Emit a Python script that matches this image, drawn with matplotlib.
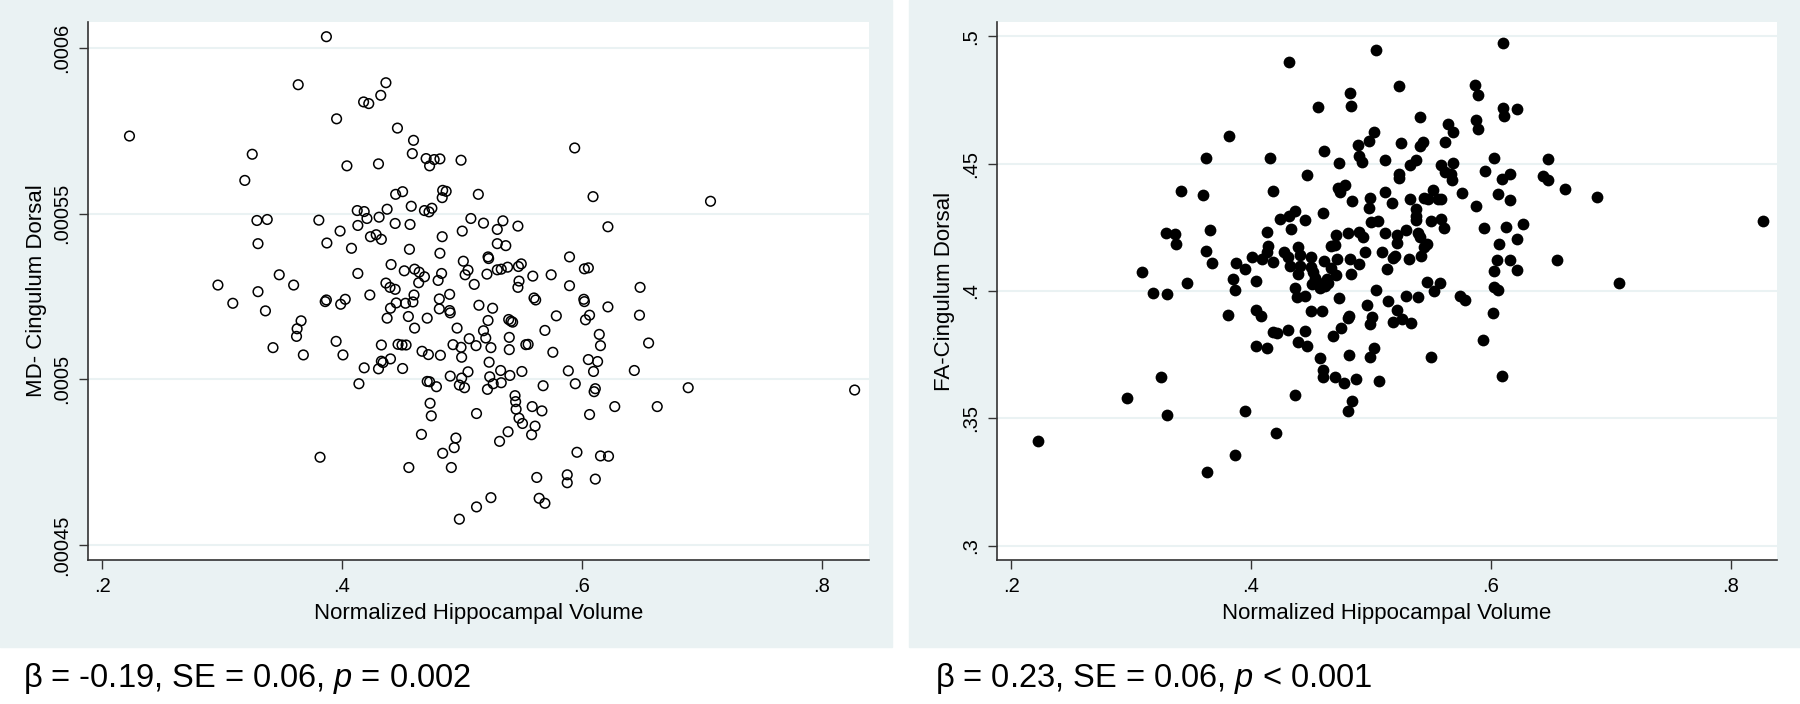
import matplotlib

matplotlib.use("Agg")
import matplotlib.pyplot as plt
from matplotlib.patches import Rectangle

plt.rcParams["font.family"] = ["Liberation Sans", "DejaVu Sans"]
plt.rcParams["mathtext.fontset"] = "custom"
plt.rcParams["mathtext.rm"] = "Liberation Sans"
plt.rcParams["mathtext.it"] = "Liberation Sans:italic"

# ---- data ----
md_x = [
    0.3870, 0.3635, 0.4366, 0.4323, 0.4180, 0.4223, 0.3955, 0.2229, 0.4462, 0.4596,
    0.5939, 0.3252, 0.4586, 0.4701, 0.4768, 0.4816, 0.4730, 0.4992, 0.4041, 0.4304,
    0.3190, 0.4447, 0.4505, 0.4839, 0.4868, 0.4835, 0.5136, 0.6092, 0.7071, 0.4577,
    0.4127, 0.4185, 0.4376, 0.4687, 0.4725, 0.4749, 0.4208, 0.4309, 0.3291, 0.3377,
    0.3807, 0.4132, 0.4443, 0.4567, 0.5074, 0.5179, 0.5341, 0.5294, 0.5466, 0.5002,
    0.6216, 0.3984, 0.4237, 0.4285, 0.4328, 0.4835, 0.3300, 0.3874, 0.4079, 0.4562,
    0.5294, 0.5365, 0.4816, 0.5217, 0.5222, 0.5896, 0.5011, 0.4409, 0.5494, 0.5470,
    0.6020, 0.6053, 0.4605, 0.4519, 0.4643, 0.4830, 0.5050, 0.5026, 0.5208, 0.5294,
    0.5327, 0.5380, 0.3477, 0.4132, 0.4687, 0.4801, 0.5743, 0.5590, 0.5475, 0.4366,
    0.4400, 0.4639, 0.2966, 0.3597, 0.5102, 0.5896, 0.5466, 0.6484, 0.3300, 0.4232,
    0.4443, 0.4600, 0.4897, 0.5600, 0.5614, 0.6015, 0.6020, 0.3090, 0.3860, 0.3870,
    0.4027, 0.3989, 0.4591, 0.4529, 0.4452, 0.4811, 0.4811, 0.4897, 0.4902, 0.5141,
    0.5255, 0.6216, 0.3362, 0.4404, 0.6479, 0.4376, 0.4553, 0.4710, 0.5217, 0.5389,
    0.5408, 0.5422, 0.5786, 0.6029, 0.6063, 0.3659, 0.3626, 0.3621, 0.4605, 0.4959,
    0.5179, 0.5691, 0.6144, 0.5394, 0.5060, 0.5198, 0.3425, 0.3951, 0.4328, 0.4467,
    0.4500, 0.4534, 0.4925, 0.4992, 0.5117, 0.5241, 0.5394, 0.5532, 0.5551, 0.6154,
    0.6555, 0.3678, 0.4008, 0.4667, 0.4720, 0.4820, 0.4997, 0.5757, 0.4404, 0.4328,
    0.4342, 0.5226, 0.6053, 0.6130, 0.4185, 0.4304, 0.4505, 0.5050, 0.5322, 0.5499,
    0.5886, 0.6096, 0.6436, 0.4902, 0.4997, 0.5231, 0.5399, 0.4141, 0.4710, 0.4730,
    0.4787, 0.4978, 0.5021, 0.5260, 0.5327, 0.5676, 0.5944, 0.5212, 0.6885, 0.8272,
    0.6111, 0.6101, 0.5442, 0.5447, 0.5451, 0.5585, 0.5666, 0.6273, 0.6627, 0.4734,
    0.4744, 0.5121, 0.5475, 0.5504, 0.5609, 0.6063, 0.4662, 0.4949, 0.5384, 0.5580,
    0.5313, 0.4935, 0.4839, 0.3817, 0.5958, 0.6154, 0.6221, 0.4557, 0.4911, 0.5623,
    0.5877, 0.5877, 0.6111, 0.5241, 0.5643, 0.5691, 0.5121, 0.4978,
]
md_y = [
    0.0006035, 0.0005890, 0.0005896, 0.0005858, 0.0005838, 0.0005833, 0.0005787, 0.0005735, 0.0005759, 0.0005722,
    0.0005699, 0.0005680, 0.0005682, 0.0005667, 0.0005664, 0.0005666, 0.0005645, 0.0005662, 0.0005645, 0.0005651,
    0.0005601, 0.0005559, 0.0005567, 0.0005571, 0.0005568, 0.0005549, 0.0005559, 0.0005552, 0.0005538, 0.0005523,
    0.0005510, 0.0005507, 0.0005514, 0.0005510, 0.0005506, 0.0005517, 0.0005486, 0.0005490, 0.0005480, 0.0005483,
    0.0005481, 0.0005465, 0.0005471, 0.0005468, 0.0005486, 0.0005472, 0.0005479, 0.0005453, 0.0005463, 0.0005448,
    0.0005461, 0.0005448, 0.0005431, 0.0005437, 0.0005423, 0.0005431, 0.0005410, 0.0005412, 0.0005396, 0.0005393,
    0.0005410, 0.0005404, 0.0005381, 0.0005370, 0.0005365, 0.0005370, 0.0005357, 0.0005347, 0.0005349, 0.0005341,
    0.0005334, 0.0005337, 0.0005333, 0.0005328, 0.0005324, 0.0005320, 0.0005330, 0.0005316, 0.0005318, 0.0005331,
    0.0005333, 0.0005339, 0.0005316, 0.0005320, 0.0005310, 0.0005299, 0.0005316, 0.0005312, 0.0005297, 0.0005291,
    0.0005278, 0.0005292, 0.0005285, 0.0005285, 0.0005287, 0.0005283, 0.0005278, 0.0005278, 0.0005265, 0.0005255,
    0.0005272, 0.0005255, 0.0005257, 0.0005246, 0.0005240, 0.0005242, 0.0005235, 0.0005230, 0.0005235, 0.0005240,
    0.0005242, 0.0005227, 0.0005234, 0.0005230, 0.0005231, 0.0005243, 0.0005213, 0.0005208, 0.0005201, 0.0005224,
    0.0005215, 0.0005219, 0.0005207, 0.0005215, 0.0005194, 0.0005185, 0.0005190, 0.0005185, 0.0005178, 0.0005181,
    0.0005176, 0.0005173, 0.0005192, 0.0005180, 0.0005194, 0.0005177, 0.0005153, 0.0005130, 0.0005155, 0.0005155,
    0.0005147, 0.0005148, 0.0005136, 0.0005127, 0.0005123, 0.0005125, 0.0005096, 0.0005115, 0.0005104, 0.0005106,
    0.0005104, 0.0005104, 0.0005105, 0.0005097, 0.0005102, 0.0005096, 0.0005090, 0.0005105, 0.0005106, 0.0005102,
    0.0005110, 0.0005074, 0.0005074, 0.0005085, 0.0005075, 0.0005073, 0.0005067, 0.0005082, 0.0005062, 0.0005055,
    0.0005051, 0.0005052, 0.0005060, 0.0005054, 0.0005035, 0.0005032, 0.0005033, 0.0005023, 0.0005027, 0.0005024,
    0.0005026, 0.0005024, 0.0005027, 0.0005010, 0.0005004, 0.0005008, 0.0005012, 0.0004987, 0.0004994, 0.0004993,
    0.0004978, 0.0004983, 0.0004975, 0.0004987, 0.0004990, 0.0004981, 0.0004987, 0.0004970, 0.0004975, 0.0004968,
    0.0004972, 0.0004963, 0.0004951, 0.0004933, 0.0004910, 0.0004918, 0.0004905, 0.0004918, 0.0004918, 0.0004928,
    0.0004890, 0.0004897, 0.0004883, 0.0004867, 0.0004859, 0.0004894, 0.0004834, 0.0004823, 0.0004842, 0.0004833,
    0.0004813, 0.0004794, 0.0004777, 0.0004765, 0.0004780, 0.0004769, 0.0004768, 0.0004734, 0.0004734, 0.0004704,
    0.0004712, 0.0004688, 0.0004699, 0.0004643, 0.0004641, 0.0004626, 0.0004615, 0.0004578,
]

fa_x = [
    0.6105, 0.5043, 0.4321, 0.5239, 0.5871, 0.5895, 0.4823, 0.4833, 0.4560, 0.6100,
    0.6215, 0.6110, 0.5411, 0.5876, 0.5646, 0.5895, 0.5684, 0.5024, 0.3818, 0.4981,
    0.5254, 0.5435, 0.5622, 0.5407, 0.4890, 0.4608, 0.3627, 0.4158, 0.4904, 0.4923,
    0.5120, 0.5378, 0.6024, 0.6478, 0.4737, 0.5330, 0.5584, 0.5689, 0.5622, 0.5670,
    0.5679, 0.5952, 0.6158, 0.6091, 0.4469, 0.5239, 0.5239, 0.6435, 0.6478, 0.6622,
    0.6885, 0.3421, 0.4182, 0.4727, 0.4785, 0.4746, 0.5115, 0.5522, 0.5761, 0.6057,
    0.3598, 0.4842, 0.4995, 0.5177, 0.5325, 0.5440, 0.5474, 0.5560, 0.5584, 0.6158,
    0.5880, 0.4986, 0.5373, 0.4368, 0.4598, 0.4321, 0.4239, 0.4455, 0.5000, 0.5057,
    0.5373, 0.5373, 0.5498, 0.5589, 0.8268, 0.6273, 0.4335, 0.3660, 0.5612, 0.5947,
    0.6129, 0.5292, 0.3292, 0.3368, 0.4134, 0.4713, 0.4809, 0.4900, 0.4933, 0.5120,
    0.5215, 0.5397, 0.5407, 0.6220, 0.3378, 0.4139, 0.4665, 0.4699, 0.5469, 0.5220,
    0.6067, 0.4392, 0.3627, 0.4273, 0.4134, 0.4952, 0.5096, 0.5445, 0.4411, 0.4502,
    0.4306, 0.4010, 0.4096, 0.5201, 0.5321, 0.5416, 0.5187, 0.4718, 0.4828, 0.4900,
    0.4608, 0.3675, 0.3880, 0.4187, 0.4330, 0.4411, 0.4498, 0.4665, 0.6053, 0.6158,
    0.6555, 0.3947, 0.5139, 0.3096, 0.3469, 0.3852, 0.4041, 0.4392, 0.4522, 0.4531,
    0.4555, 0.4636, 0.4713, 0.4837, 0.6024, 0.6215, 0.4368, 0.4512, 0.4622, 0.4641,
    0.4579, 0.3866, 0.5043, 0.5469, 0.5579, 0.6024, 0.6057, 0.5531, 0.7072, 0.3187,
    0.3301, 0.4383, 0.4450, 0.4732, 0.5292, 0.5392, 0.5742, 0.5789, 0.5144, 0.4967,
    0.4041, 0.4085, 0.3809, 0.4498, 0.4593, 0.5220, 0.6019, 0.4818, 0.5014, 0.5182,
    0.5258, 0.5335, 0.4995, 0.4809, 0.4751, 0.4689, 0.4182, 0.4220, 0.4311, 0.4455,
    0.4397, 0.4464, 0.4043, 0.4134, 0.5024, 0.5938, 0.4818, 0.4574, 0.4995, 0.5498,
    0.4598, 0.4603, 0.4699, 0.4780, 0.4876, 0.5072, 0.6091, 0.3254, 0.2967, 0.4364,
    0.4847, 0.4813, 0.3952, 0.3301, 0.4211, 0.2225, 0.3871, 0.3632,
]
fa_y = [
    0.4974, 0.4947, 0.4898, 0.4806, 0.4811, 0.4771, 0.4778, 0.4727, 0.4721, 0.4720,
    0.4716, 0.4688, 0.4684, 0.4672, 0.4654, 0.4638, 0.4624, 0.4624, 0.4610, 0.4589,
    0.4582, 0.4587, 0.4586, 0.4570, 0.4573, 0.4550, 0.4522, 0.4522, 0.4531, 0.4508,
    0.4513, 0.4515, 0.4522, 0.4517, 0.4503, 0.4494, 0.4494, 0.4503, 0.4469, 0.4459,
    0.4437, 0.4473, 0.4459, 0.4441, 0.4455, 0.4460, 0.4444, 0.4451, 0.4436, 0.4400,
    0.4370, 0.4393, 0.4393, 0.4406, 0.4418, 0.4388, 0.4390, 0.4395, 0.4383, 0.4381,
    0.4376, 0.4354, 0.4367, 0.4347, 0.4362, 0.4365, 0.4362, 0.4360, 0.4360, 0.4356,
    0.4332, 0.4326, 0.4321, 0.4314, 0.4305, 0.4293, 0.4282, 0.4279, 0.4272, 0.4275,
    0.4296, 0.4279, 0.4273, 0.4284, 0.4273, 0.4265, 0.4245, 0.4240, 0.4247, 0.4249,
    0.4250, 0.4238, 0.4229, 0.4224, 0.4233, 0.4220, 0.4228, 0.4231, 0.4213, 0.4228,
    0.4219, 0.4226, 0.4212, 0.4203, 0.4185, 0.4178, 0.4176, 0.4182, 0.4183, 0.4187,
    0.4183, 0.4171, 0.4157, 0.4155, 0.4153, 0.4153, 0.4155, 0.4171, 0.4143, 0.4134,
    0.4134, 0.4134, 0.4127, 0.4138, 0.4125, 0.4138, 0.4131, 0.4125, 0.4127, 0.4108,
    0.4118, 0.4109, 0.4109, 0.4115, 0.4097, 0.4099, 0.4095, 0.4092, 0.4123, 0.4123,
    0.4123, 0.4088, 0.4088, 0.4074, 0.4032, 0.4048, 0.4039, 0.4067, 0.4074, 0.4053,
    0.4035, 0.4046, 0.4063, 0.4067, 0.4079, 0.4081, 0.4012, 0.4026, 0.4019, 0.4032,
    0.4012, 0.4004, 0.4004, 0.4037, 0.4032, 0.4016, 0.4002, 0.4000, 0.4033, 0.3991,
    0.3989, 0.3977, 0.3982, 0.3974, 0.3979, 0.3977, 0.3982, 0.3965, 0.3959, 0.3944,
    0.3924, 0.3903, 0.3907, 0.3922, 0.3921, 0.3926, 0.3914, 0.3901, 0.3896, 0.3877,
    0.3889, 0.3875, 0.3871, 0.3892, 0.3854, 0.3822, 0.3840, 0.3836, 0.3845, 0.3843,
    0.3801, 0.3785, 0.3783, 0.3778, 0.3776, 0.3808, 0.3748, 0.3737, 0.3741, 0.3739,
    0.3690, 0.3661, 0.3661, 0.3640, 0.3653, 0.3647, 0.3668, 0.3663, 0.3578, 0.3591,
    0.3568, 0.3527, 0.3527, 0.3513, 0.3441, 0.3411, 0.3356, 0.3288,
]

x_ticks = [0.2, 0.4, 0.6, 0.8]
x_ticklabels = [".2", ".4", ".6", ".8"]
md_ticks = [0.00045, 0.0005, 0.00055, 0.0006]
md_ticklabels = [".00045", ".0005", ".00055", ".0006"]
fa_ticks = [0.3, 0.35, 0.4, 0.45, 0.5]
fa_ticklabels = [".3", ".35", ".4", ".45", ".5"]
x_title = "Normalized Hippocampal Volume"
md_title = "MD- Cingulum Dorsal"
fa_title = "FA-Cingulum Dorsal"
md_stats = r"β = -0.19, SE = 0.06, $p$ = 0.002"
fa_stats = r"β = 0.23, SE = 0.06, $p$ < 0.001"

BG = "#EAF2F3"
GRID = "#EAF2F3"
AXC = "#333333"
W, H = 1800, 704


def style(ax, xlim, ylim, yticks, ylabels, ylabel):
    ax.set_xlim(*xlim)
    ax.set_ylim(*ylim)
    ax.set_xticks(x_ticks, x_ticklabels)
    ax.set_yticks(yticks, ylabels, rotation=90, va="center")
    for s in ("top", "right"):
        ax.spines[s].set_visible(False)
    for s in ("left", "bottom"):
        ax.spines[s].set_color(AXC)
        ax.spines[s].set_linewidth(1.2)
    ax.tick_params(direction="out", length=6.5, width=1, color=AXC,
                   pad=5.5, labelsize=14.5, labelcolor="black")
    ax.grid(axis="y", color=GRID, lw=1.5)
    ax.set_axisbelow(True)
    ax.set_xlabel(x_title, fontsize=16, labelpad=5)
    ax.set_ylabel(ylabel, fontsize=16, labelpad=4)


fig = plt.figure(figsize=(W / 100, H / 100), dpi=100)
fig.add_artist(Rectangle((0, 1 - 647 / H), 891.7 / W, 647 / H,
                         transform=fig.transFigure, color=BG, zorder=0))
fig.add_artist(Rectangle((909 / W, 1 - 647 / H), (W - 909) / W, 647 / H,
                         transform=fig.transFigure, color=BG, zorder=0))

ax1 = fig.add_axes([88 / W, 1 - 560 / H, 781.3 / W, 538 / H])
ax1.scatter(md_x, md_y, s=48, facecolors="none", edgecolors="black",
            linewidths=1.1, zorder=3)
style(ax1, (0.18833, 0.83942), (0.00044547, 0.00060794),
      md_ticks, md_ticklabels, md_title)

ax2 = fig.add_axes([996.7 / W, 1 - 560 / H, 780.3 / W, 538 / H])
ax2.scatter(fa_x, fa_y, s=72, color="black", linewidths=0, zorder=3)
style(ax2, (0.18807, 0.83870), (0.29434, 0.50566),
      fa_ticks, fa_ticklabels, fa_title)

fig.text(23 / W, 1 - 687 / H, md_stats, fontsize=23.5, va="baseline")
fig.text(935 / W, 1 - 687 / H, fa_stats, fontsize=23.5, va="baseline")

fig.savefig("out.png", dpi=100)
